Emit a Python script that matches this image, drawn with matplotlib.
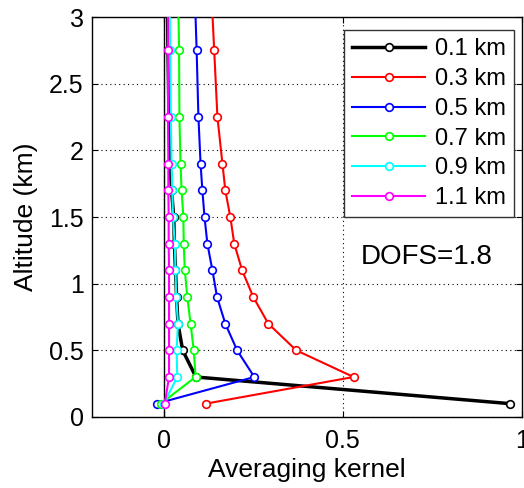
import numpy as np
import matplotlib
matplotlib.use("Agg")
from matplotlib import pyplot as plt

plt.rcParams['font.family'] = ['Liberation Sans', 'DejaVu Sans']

# %% data
altitude = [0.1, 0.3, 0.5, 0.7, 0.9, 1.1, 1.3, 1.5, 1.7, 1.9, 2.25, 2.75, 3.25]

ak_01 = [0.967, 0.090, 0.053, 0.040, 0.036, 0.033, 0.030, 0.028, 0.022, 0.018, 0.015, 0.012, 0.010]
ak_03 = [0.117, 0.530, 0.370, 0.292, 0.250, 0.219, 0.197, 0.186, 0.172, 0.164, 0.150, 0.141, 0.132]
ak_05 = [-0.020, 0.253, 0.205, 0.172, 0.149, 0.136, 0.122, 0.114, 0.108, 0.103, 0.097, 0.092, 0.086]
ak_07 = [-0.008, 0.089, 0.084, 0.075, 0.066, 0.059, 0.056, 0.055, 0.050, 0.047, 0.044, 0.043, 0.040]
ak_09 = [0.000, 0.038, 0.036, 0.040, 0.035, 0.033, 0.031, 0.026, 0.024, 0.022, 0.020, 0.018, 0.016]
ak_11 = [0.003, 0.015, 0.015, 0.015, 0.015, 0.015, 0.014, 0.014, 0.013, 0.013, 0.012, 0.012, 0.011]

kernels = [ak_01, ak_03, ak_05, ak_07, ak_09, ak_11]
labels = ["0.1 km", "0.3 km", "0.5 km", "0.7 km", "0.9 km", "1.1 km"]
colors = ["k", "#ff0000", "#0000ff", "#00ff00", "#00ffff", "#ff00ff"]

dofs_text = "DOFS=1.8"

# %% plot
fig = plt.figure(figsize=(5.24, 4.88), dpi=100)
ax = fig.add_axes([92/524, 1-417/488, 430/524, 400/488])

ax.axvline(0, color="k", lw=1.0, zorder=1)

for ak, lab, col in zip(kernels, labels, colors):
    lw = 2.5 if col == "k" else 1.5
    ax.plot(ak, altitude, "-o", color=col, lw=lw, label=lab,
            markersize=5.5, markerfacecolor="white", markeredgecolor=col,
            markeredgewidth=1.2, zorder=3)

ax.set_xlim(-0.2, 1)
ax.set_ylim(0, 3)
ax.set_xticks([0, 0.5, 1])
ax.set_xticklabels(["0", "0.5", "1"])
ax.set_yticks([0, 0.5, 1, 1.5, 2, 2.5, 3])
ax.set_yticklabels(["0", "0.5", "1", "1.5", "2", "2.5", "3"])
ax.tick_params(direction="in", top=True, right=True, length=4, labelsize=18, width=0.8)
ax.tick_params(axis="x", pad=9)
ax.tick_params(axis="y", pad=6)
ax.grid(True, linestyle=(0, (1, 3)), color="k", lw=0.8)
for sp in ax.spines.values():
    sp.set_linewidth(1.0)

ax.set_xlabel("Averaging kernel", fontsize=19, labelpad=3)
ax.set_ylabel("Altitude (km)", fontsize=19, labelpad=8)

ax.text(0.733, 1.2, dofs_text, fontsize=20, ha="center", va="center")

leg = ax.legend(loc="upper right", bbox_to_anchor=(0.981, 0.9675), borderaxespad=0,
                fontsize=17, handlelength=3.1, labelspacing=0.33, fancybox=False,
                framealpha=1, edgecolor="#333333", borderpad=0.35, handletextpad=0.4)
leg.get_frame().set_linewidth(1.0)

fig.savefig("out.png", dpi=100)
